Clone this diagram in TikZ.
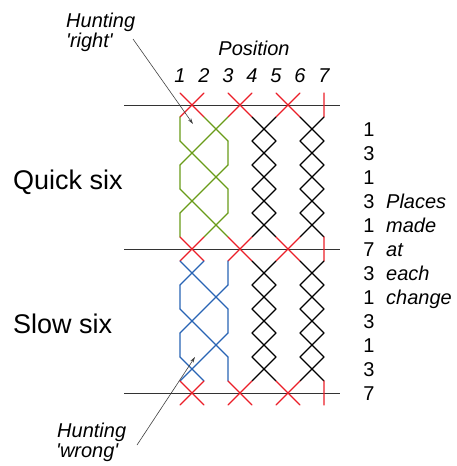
\documentclass[tikz,border=0pt]{standalone}
\usepackage{fontspec}
\newfontfamily\lsans{Liberation Sans}
\usetikzlibrary{arrows.meta}
\definecolor{bred}{RGB}{235,30,40}
\definecolor{bgreen}{RGB}{105,155,25}
\definecolor{bblue}{RGB}{40,100,180}
\newcommand\bp[2]{({180+24*((#1)-1)},{93+24*(#2)})}
\begin{document}
\begin{tikzpicture}[x=1pt,y=-1pt,
  seg/.style={line width=1.3pt, line cap=round, line join=round},
  hline/.style={line width=1pt, draw=black!80},
  pointer/.style={line width=0.6pt, draw=black!75, -{Stealth[length=6pt,width=3.5pt]}},
  small/.style={font=\lsans\fontsize{20}{22}\selectfont\itshape, inner sep=0pt},
  num/.style={font=\lsans\fontsize{20}{22}\selectfont, inner sep=0pt},
  big/.style={font=\lsans\fontsize{27}{30}\selectfont, inner sep=0pt}]
\useasboundingbox (0,0) rectangle (457,466);
% six-end lines
\draw[hline] (124,105) -- (340,105);
\draw[hline] (124,249) -- (340,249);
\draw[hline] (124,393) -- (340,393);
% changes
\foreach \j/\t/\fc in {0/7/bred,1/1/bgreen,2/3/bgreen,3/1/bgreen,4/3/bgreen,5/1/bgreen,
                       6/7/bred,7/3/bblue,8/1/bblue,9/3/bblue,10/1/bblue,11/3/bblue,12/7/bred}{
  \pgfmathtruncatemacro\k{\j+1}
  \ifnum\t=7
    \draw[seg, bred] \bp{1}{\j} -- \bp{2}{\k} \bp{2}{\j} -- \bp{1}{\k}
                     \bp{3}{\j} -- \bp{4}{\k} \bp{4}{\j} -- \bp{3}{\k}
                     \bp{5}{\j} -- \bp{6}{\k} \bp{6}{\j} -- \bp{5}{\k}
                     \bp{7}{\j} -- \bp{7}{\k};
  \else
    \ifnum\t=1
      \draw[seg, \fc] \bp{1}{\j} -- \bp{1}{\k} \bp{2}{\j} -- \bp{3}{\k} \bp{3}{\j} -- \bp{2}{\k};
    \else
      \draw[seg, \fc] \bp{1}{\j} -- \bp{2}{\k} \bp{2}{\j} -- \bp{1}{\k} \bp{3}{\j} -- \bp{3}{\k};
    \fi
    \draw[seg, black] \bp{4}{\j} -- \bp{5}{\k} \bp{5}{\j} -- \bp{4}{\k}
                      \bp{6}{\j} -- \bp{7}{\k} \bp{7}{\j} -- \bp{6}{\k};
  \fi
}
% labels
\node[small, anchor=base] (pos) at (254,55) {Position};
\foreach \i in {1,...,7}{
  \node[small, anchor=base] (c\i) at ({180+24*(\i-1)},82) {\i};
}
\node[small, anchor=base west] (hr1) at (66,27) {Hunting};
\node[small, anchor=base west] (hr2) at (66,47) {'right'};
\node[small, anchor=base west] (hw1) at (57,437) {Hunting};
\node[small, anchor=base west] (hw2) at (56,457) {'wrong'};
\node[big, anchor=base west] (quick) at (13,189) {Quick six};
\node[big, anchor=base west] (slow) at (13,333) {Slow six};
\foreach \n [count=\c from 0] in {1,3,1,3,1,7,3,1,3,1,3,7}{
  \node[num, anchor=base] (pm\c) at (369,{136+24*\c}) {\n};
}
\node[small, anchor=base west] (pl1) at (386,208) {Places};
\node[small, anchor=base west] (pl2) at (386,232) {made};
\node[small, anchor=base west] (pl3) at (386,256) {at};
\node[small, anchor=base west] (pl4) at (386,280) {each};
\node[small, anchor=base west] (pl5) at (386,304) {change};
% pointers
\coordinate (rs) at (133,39);
\coordinate (rt) at (193,124);
\coordinate (ws) at (137,445);
\coordinate (wt) at (195,357);
\draw[pointer] (rs) -- (rt);
\draw[pointer] (ws) -- (wt);
\end{tikzpicture}
\end{document}
